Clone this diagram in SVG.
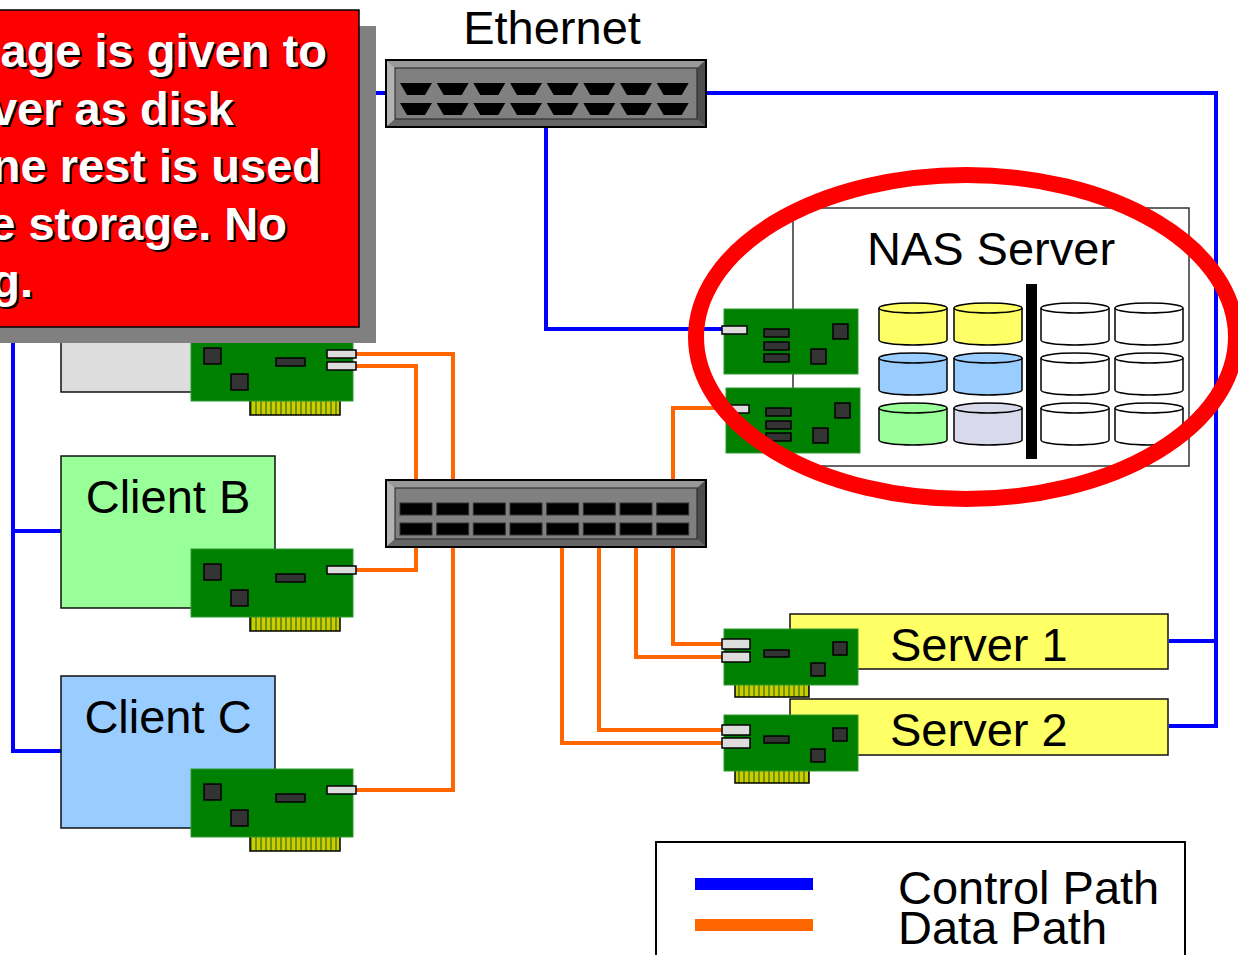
<svg xmlns="http://www.w3.org/2000/svg" width="1238" height="955" viewBox="0 0 1238 955">
  <style>
    .lbl { font-family: "Liberation Sans", Arial, sans-serif; font-size: 47px; fill: #000; }
    .note { font-family: "Liberation Sans", Arial, sans-serif; font-size: 47px; font-weight: bold; text-anchor: end; }
    .ctl { fill: none; stroke: #0000ff; stroke-width: 4; }
    .dat { fill: none; stroke: #ff6600; stroke-width: 4; }
    .board { fill: #008000; stroke: #2f9a2f; stroke-width: 1; }
    .chip { fill: #333; stroke: #000; stroke-width: 1.5; }
    .port { fill: #ddd; stroke: #000; stroke-width: 1.5; }
    .pins { fill: url(#pinPat); stroke: #000; stroke-width: 1.5; }
    .box { stroke: #111; stroke-width: 1.5; }
    .disk { stroke: #000; stroke-width: 1.5; }
  </style>
  <defs>
    <pattern id="pinPat" width="5" height="20" patternUnits="userSpaceOnUse">
      <rect width="5" height="20" fill="#6f9400"/>
      <rect x="1" width="3" height="20" fill="#cccc00"/>
    </pattern>
    <!-- client NIC: ports on the right -->
    <g id="clientNic">
      <rect class="pins" x="59" y="66" width="90" height="16"/>
      <rect class="board" x="0" y="0" width="162" height="68"/>
      <rect class="chip" x="13" y="15" width="17" height="16"/>
      <rect class="chip" x="40" y="41" width="17" height="16"/>
      <rect class="chip" x="85" y="25" width="29" height="8"/>
    </g>
    <!-- server NIC: ports on the left -->
    <g id="serverNic">
      <rect class="pins" x="11" y="54" width="74" height="14"/>
      <rect class="board" x="0" y="0" width="134" height="56"/>
      <rect class="chip" x="40" y="21" width="25" height="7"/>
      <rect class="chip" x="109" y="13" width="14" height="13"/>
      <rect class="chip" x="87" y="34" width="14" height="13"/>
      <rect class="port" x="-2" y="10" width="28" height="10"/>
      <rect class="port" x="-2" y="23" width="28" height="10"/>
    </g>
    <!-- NAS NIC -->
    <g id="nasNic">
      <rect class="board" x="0" y="0" width="134" height="65"/>
      <rect class="port" x="-2" y="17" width="25" height="8"/>
      <rect class="chip" x="40" y="20" width="25" height="8"/>
      <rect class="chip" x="40" y="33" width="25" height="8"/>
      <rect class="chip" x="40" y="45" width="25" height="8"/>
      <rect class="chip" x="109" y="15" width="15" height="15"/>
      <rect class="chip" x="87" y="40" width="15" height="15"/>
    </g>
    <!-- beveled switch chassis -->
    <g id="chassis">
      <rect x="0" y="0" width="320" height="67" fill="#808080"/>
      <polygon points="0,0 320,0 311,8 9,8" fill="#999"/>
      <polygon points="0,0 9,8 9,59 0,67" fill="#b3b3b3"/>
      <polygon points="320,0 311,8 311,59 320,67" fill="#4d4d4d"/>
      <polygon points="0,67 9,59 311,59 320,67" fill="#666"/>
      <rect x="9" y="8" width="302" height="51" fill="none" stroke="#222" stroke-width="1"/>
      <rect x="0" y="0" width="320" height="67" fill="none" stroke="#000" stroke-width="2"/>
    </g>
    <path id="jack" d="M0,0 H32 L25,12 H7 Z" fill="#000"/>
    <rect id="slot" width="32" height="12" fill="#000" stroke="#333" stroke-width="1"/>
    <!-- storage cylinder, 68 wide -->
    <g id="cyl">
      <path d="M0,5 V37 A34,5 0 0 0 68,37 V5"/>
      <ellipse cx="34" cy="5" rx="34" ry="5"/>
    </g>
  </defs>

  <!-- connectors -->
  <g id="connectors">
    <path class="ctl" d="M386,93 H13 V751 H61 M13,531 H61"/>
    <path class="ctl" d="M706,93 H1216 V726 H1169 M1169,641 H1216"/>
    <path class="ctl" d="M546,126 V329 H722"/>
    <path class="dat" d="M356,354 H453 V503"/>
    <path class="dat" d="M356,366 H416 V503"/>
    <path class="dat" d="M356,570 H416 V535"/>
    <path class="dat" d="M356,790 H453 V535"/>
    <path class="dat" d="M726,408 H673 V503"/>
    <path class="dat" d="M673,535 V644 H722"/>
    <path class="dat" d="M636,535 V657 H722"/>
    <path class="dat" d="M599,535 V730 H722"/>
    <path class="dat" d="M562,535 V743 H722"/>
  </g>

  <!-- Ethernet switch -->
  <g id="ethernet">
    <use href="#chassis" x="386" y="60"/>
    <g>
      <use href="#jack" x="400" y="83"/><use href="#jack" x="436.7" y="83"/>
      <use href="#jack" x="473.3" y="83"/><use href="#jack" x="510" y="83"/>
      <use href="#jack" x="546.7" y="83"/><use href="#jack" x="583.3" y="83"/>
      <use href="#jack" x="620" y="83"/><use href="#jack" x="656.7" y="83"/>
      <use href="#jack" x="400" y="103"/><use href="#jack" x="436.7" y="103"/>
      <use href="#jack" x="473.3" y="103"/><use href="#jack" x="510" y="103"/>
      <use href="#jack" x="546.7" y="103"/><use href="#jack" x="583.3" y="103"/>
      <use href="#jack" x="620" y="103"/><use href="#jack" x="656.7" y="103"/>
    </g>
    <text class="lbl" x="552" y="44" text-anchor="middle">Ethernet</text>
  </g>

  <!-- storage switch -->
  <g id="fabric">
    <use href="#chassis" x="386" y="480"/>
    <use href="#slot" x="400" y="503"/><use href="#slot" x="436.7" y="503"/>
    <use href="#slot" x="473.3" y="503"/><use href="#slot" x="510" y="503"/>
    <use href="#slot" x="546.7" y="503"/><use href="#slot" x="583.3" y="503"/>
    <use href="#slot" x="620" y="503"/><use href="#slot" x="656.7" y="503"/>
    <use href="#slot" x="400" y="523"/><use href="#slot" x="436.7" y="523"/>
    <use href="#slot" x="473.3" y="523"/><use href="#slot" x="510" y="523"/>
    <use href="#slot" x="546.7" y="523"/><use href="#slot" x="583.3" y="523"/>
    <use href="#slot" x="620" y="523"/><use href="#slot" x="656.7" y="523"/>
  </g>

  <!-- Client A -->
  <g id="client-a">
    <rect class="box" x="61" y="240" width="214" height="152" fill="#ddd"/>
    <use href="#clientNic" x="191" y="333"/>
    <rect class="port" x="327" y="350" width="29" height="8"/>
    <rect class="port" x="327" y="362" width="29" height="8"/>
  </g>

  <!-- Client B -->
  <g id="client-b">
    <rect class="box" x="61" y="456" width="214" height="152" fill="#99ff99"/>
    <text class="lbl" x="168" y="513" text-anchor="middle">Client B</text>
    <use href="#clientNic" x="191" y="549"/>
    <rect class="port" x="327" y="566" width="29" height="8"/>
  </g>

  <!-- Client C -->
  <g id="client-c">
    <rect class="box" x="61" y="676" width="214" height="152" fill="#99ccff"/>
    <text class="lbl" x="168" y="733" text-anchor="middle">Client C</text>
    <use href="#clientNic" x="191" y="769"/>
    <rect class="port" x="327" y="786" width="29" height="8"/>
  </g>

  <!-- NAS server -->
  <g id="nas-server">
    <rect x="793" y="208" width="396" height="258" fill="#fff" stroke="#333" stroke-width="1.5"/>
    <text class="lbl" x="991" y="265" text-anchor="middle">NAS Server</text>
    <use href="#nasNic" x="724" y="309"/>
    <use href="#nasNic" x="726" y="388"/>
    <g class="disk">
      <use href="#cyl" x="879" y="303" fill="#ffff66"/>
      <use href="#cyl" x="954" y="303" fill="#ffff66"/>
      <use href="#cyl" x="879" y="353" fill="#99ccff"/>
      <use href="#cyl" x="954" y="353" fill="#99ccff"/>
      <use href="#cyl" x="879" y="403" fill="#99ff99"/>
      <use href="#cyl" x="954" y="403" fill="#d9d9ec"/>
      <use href="#cyl" x="1041" y="303" fill="#fff"/>
      <use href="#cyl" x="1115" y="303" fill="#fff"/>
      <use href="#cyl" x="1041" y="353" fill="#fff"/>
      <use href="#cyl" x="1115" y="353" fill="#fff"/>
      <use href="#cyl" x="1041" y="403" fill="#fff"/>
      <use href="#cyl" x="1115" y="403" fill="#fff"/>
    </g>
    <rect x="1026" y="284" width="11" height="175" fill="#000"/>
  </g>

  <!-- Server 1 -->
  <g id="server-1">
    <rect class="box" x="790" y="614" width="378" height="55" fill="#ffff66"/>
    <text class="lbl" x="890" y="661">Server 1</text>
    <use href="#serverNic" x="724" y="629"/>
  </g>

  <!-- Server 2 -->
  <g id="server-2">
    <rect class="box" x="790" y="699" width="378" height="56" fill="#ffff66"/>
    <text class="lbl" x="890" y="746">Server 2</text>
    <use href="#serverNic" x="724" y="715"/>
  </g>

  <!-- highlight ring -->
  <ellipse id="highlight" cx="966" cy="337" rx="270" ry="162" fill="none" stroke="#ff0000" stroke-width="16"/>

  <!-- callout -->
  <g id="callout">
    <rect x="-20" y="26" width="396" height="317" fill="#808080"/>
    <rect x="-20" y="10" width="379" height="317" fill="#ff0000" stroke="#000" stroke-width="1.5"/>
    <g fill="#000" transform="translate(2,2)">
      <text class="note" x="327" y="67">age is given to</text>
      <text class="note" x="234" y="125">ver as disk</text>
      <text class="note" x="321" y="182">ne rest is used</text>
      <text class="note" x="287" y="240">e storage. No</text>
      <text class="note" x="33" y="297">g.</text>
    </g>
    <g fill="#fff">
      <text class="note" x="327" y="67">age is given to</text>
      <text class="note" x="234" y="125">ver as disk</text>
      <text class="note" x="321" y="182">ne rest is used</text>
      <text class="note" x="287" y="240">e storage. No</text>
      <text class="note" x="33" y="297">g.</text>
    </g>
  </g>

  <!-- legend -->
  <g id="legend">
    <rect x="656" y="842" width="529" height="130" fill="#fff" stroke="#000" stroke-width="2"/>
    <rect x="695" y="878" width="118" height="12" fill="#0000ff"/>
    <rect x="695" y="919" width="118" height="12" fill="#ff6600"/>
    <text class="lbl" x="898" y="904">Control Path</text>
    <text class="lbl" x="898" y="944">Data Path</text>
  </g>
</svg>
